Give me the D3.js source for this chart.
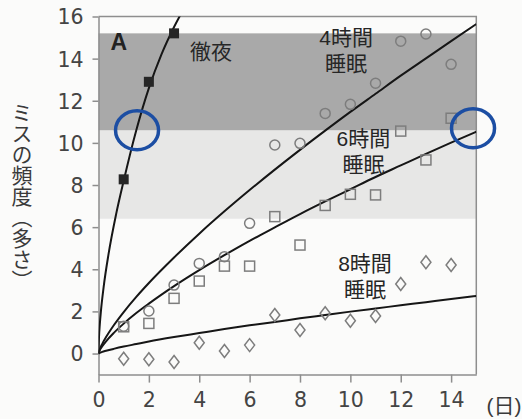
<!DOCTYPE html>
<html><head><meta charset="utf-8">
<script src="https://cdn.jsdelivr.net/npm/d3@7"></script>
<style>
html,body{margin:0;padding:0;background:#fbfbfa;}
svg{display:block;}
</style></head>
<body>
<svg id="c" width="522" height="419"></svg>
<script>
// ---- data ----
const xTicks = [0, 2, 4, 6, 8, 10, 12, 14];
const yTicks = [0, 2, 4, 6, 8, 10, 12, 14, 16];
const days = [1, 2, 3, 4, 5, 6, 7, 8, 9, 10, 11, 12, 13, 14];
const allNightDays = [1, 2, 3];
const allNight = [8.27, 12.9, 15.2];
const sleep4h = [1.3, 2.02, 3.25, 4.28, 4.6, 6.18, 9.9, 9.98, 11.4, 11.83, 12.83, 14.83, 15.17, 13.73];
const sleep6h = [1.27, 1.43, 2.62, 3.44, 4.15, 4.15, 6.5, 5.15, 7.03, 7.56, 7.53, 10.56, 9.19, 11.17];
const sleep8h = [-0.25, -0.27, -0.4, 0.51, 0.12, 0.4, 1.83, 1.12, 1.91, 1.56, 1.78, 3.3, 4.33, 4.2];
// fitted curves
const fitAllNightX = [0, 0.02, 0.05, 0.1, 0.2, 0.4, 0.7, 1, 1.5, 2, 2.5, 3, 3.4];
const fitAllNightY = [0, 0.78, 1.36, 2.06, 3.12, 4.73, 6.62, 8.2, 10.6, 12.6, 14.2, 15.5, 16.4];
const fitX = [0, 0.05, 0.15, 0.3, 0.6, 1, 1.5, 2, 3, 4, 5, 6, 7, 8, 9, 10, 11, 12, 13, 14, 15];
const fit4h = [0, 0.2, 0.46, 0.78, 1.33, 1.97, 2.69, 3.35, 4.56, 5.69, 6.75, 7.76, 8.73, 9.67, 10.58, 11.47, 12.33, 13.19, 14.01, 14.83, 15.64];
const fit6h = [0, 0.16, 0.35, 0.58, 0.97, 1.42, 1.92, 2.37, 3.2, 3.96, 4.67, 5.35, 5.99, 6.62, 7.22, 7.8, 8.38, 8.93, 9.48, 10.01, 10.53];
const fit8h = [0, 0.03, 0.08, 0.13, 0.22, 0.33, 0.45, 0.57, 0.78, 0.97, 1.16, 1.34, 1.5, 1.67, 1.83, 1.99, 2.14, 2.29, 2.44, 2.59, 2.73];
// shaded bands [from, to]
const bandDark = [10.6, 15.2];
const bandLight = [6.4, 10.6];
// labels
const seriesLabels = [
  {lines: ["4時間", "睡眠"], x: 9.83, y: 15.0},
  {lines: ["6時間", "睡眠"], x: 10.52, y: 10.21},
  {lines: ["8時間", "睡眠"], x: 10.58, y: 4.27},
  {lines: ["徹夜"], x: 4.47, y: 14.32}
];
const panelLabel = {text: "A", x: 0.81, y: 14.79};
const yTitle = "ミスの頻度（多さ）";
const xUnit = "(日)";
const highlights = [{x: 1.53, y: 10.6}, {x: 14.87, y: 10.7}];

// ---- layout ----
const svg = d3.select("#c");
const x = d3.scaleLinear().domain([0, 15]).range([98.5, 476.3]);
const y = d3.scaleLinear().domain([-1, 16]).range([374.6, 16.5]);
const axisCol = "#8e8e8e";
const txtCol = "#3a3a3a";
const jp = "'Noto Sans CJK JP', 'Noto Sans', sans-serif";
const lbl = "'Liberation Sans', 'Noto Sans CJK JP', sans-serif";
const num = "'DejaVu Sans', 'Noto Sans', sans-serif";

svg.append("defs").append("clipPath").attr("id", "pc")
  .append("rect").attr("x", x(0)).attr("y", y(16)).attr("width", x(15) - x(0)).attr("height", y(-1) - y(16));

// bands
svg.append("rect").attr("x", x(0)).attr("width", x(15) - x(0))
  .attr("y", y(bandLight[1])).attr("height", y(bandLight[0]) - y(bandLight[1]))
  .attr("fill", "#e7e7e6");
svg.append("rect").attr("x", x(0)).attr("width", x(15) - x(0))
  .attr("y", y(bandDark[1])).attr("height", y(bandDark[0]) - y(bandDark[1]))
  .attr("fill", "#a9a9a9");

// frame (top / right)
svg.append("path").attr("d", `M${x(0)},${y(16)}H${x(15)}V${y(-1)}`)
  .attr("fill", "none").attr("stroke", axisCol).attr("stroke-width", 1.5);

// axes
const yAxis = svg.append("g").attr("transform", `translate(${x(0)},0)`)
  .call(d3.axisLeft(y).tickValues(yTicks).tickSize(6).tickPadding(9).tickSizeOuter(0));
const xAxis = svg.append("g").attr("transform", `translate(0,${y(-1)})`)
  .call(d3.axisBottom(x).tickValues(xTicks).tickSize(8).tickPadding(10).tickSizeOuter(0));
[yAxis, xAxis].forEach(g => {
  g.select(".domain").attr("stroke", axisCol).attr("stroke-width", 1.5);
  g.selectAll(".tick line").attr("stroke", axisCol).attr("stroke-width", 1.5);
  g.selectAll(".tick text").attr("fill", "#444").attr("font-family", num).attr("font-size", 20.5);
});
yAxis.selectAll(".tick text").attr("dy", "0.36em");
xAxis.selectAll(".tick text").attr("dy", "0.72em");
svg.append("text").attr("x", 504).attr("y", 413).attr("text-anchor", "middle")
  .attr("font-family", lbl).attr("font-size", 21).attr("fill", txtCol).text(xUnit);

// y title (vertical)
svg.append("text")
  .attr("x", 22).attr("y", 102)
  .style("writing-mode", "vertical-rl")
  .attr("font-family", jp).attr("font-size", 21).attr("fill", txtCol).text(yTitle);

// fitted lines
const plot = svg.append("g").attr("clip-path", "url(#pc)");
const line = d3.line().x(d => x(d[0])).y(d => y(d[1])).curve(d3.curveMonotoneX);
const fits = [
  d3.zip(fitAllNightX, fitAllNightY),
  d3.zip(fitX, fit4h),
  d3.zip(fitX, fit6h),
  d3.zip(fitX, fit8h)
];
plot.selectAll("path.fit").data(fits).join("path").attr("class", "fit")
  .attr("d", line).attr("fill", "none").attr("stroke", "#161616").attr("stroke-width", 2);

// markers
const mk = "#7d7d7d";
svg.append("g").selectAll("circle").data(d3.zip(days, sleep4h)).join("circle")
  .attr("cx", d => x(d[0])).attr("cy", d => y(d[1])).attr("r", 5)
  .attr("fill", "none").attr("stroke", mk).attr("stroke-width", 1.5);
svg.append("g").selectAll("rect").data(d3.zip(days, sleep6h)).join("rect")
  .attr("x", d => x(d[0]) - 5).attr("y", d => y(d[1]) - 5).attr("width", 10).attr("height", 10)
  .attr("fill", "none").attr("stroke", mk).attr("stroke-width", 1.5);
svg.append("g").selectAll("path").data(d3.zip(days, sleep8h)).join("path")
  .attr("d", d => `M${x(d[0])},${y(d[1]) - 6.5}L${x(d[0]) + 5},${y(d[1])}L${x(d[0])},${y(d[1]) + 6.5}L${x(d[0]) - 5},${y(d[1])}Z`)
  .attr("fill", "none").attr("stroke", mk).attr("stroke-width", 1.5);
svg.append("g").selectAll("rect").data(d3.zip(allNightDays, allNight)).join("rect")
  .attr("x", d => x(d[0]) - 5).attr("y", d => y(d[1]) - 5).attr("width", 10).attr("height", 10)
  .attr("fill", "#262626");

// labels
seriesLabels.forEach(l => {
  const t = svg.append("text").attr("text-anchor", "middle").attr("font-family", lbl)
    .attr("font-size", 21).attr("fill", "#262626");
  l.lines.forEach((s, i) => {
    t.append("tspan").attr("x", x(l.x)).attr("y", y(l.y) + i * 26).attr("dy", "0.36em").text(s);
  });
});
svg.append("text").attr("x", x(panelLabel.x)).attr("y", y(panelLabel.y)).attr("dy", "0.36em")
  .attr("text-anchor", "middle").attr("font-family", "'Liberation Sans', Arial, sans-serif")
  .attr("font-weight", "bold").attr("font-size", 23).attr("fill", "#222").text(panelLabel.text);

// highlight ellipses
svg.append("g").selectAll("ellipse").data(highlights).join("ellipse")
  .attr("cx", d => x(d.x)).attr("cy", d => y(d.y)).attr("rx", 21.5).attr("ry", 19.5)
  .attr("fill", "none").attr("stroke", "#1c4ea3").attr("stroke-width", 3.5);
</script>
</body></html>
